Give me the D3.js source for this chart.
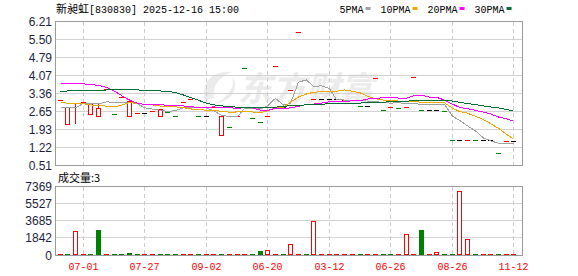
<!DOCTYPE html>
<html>
<head>
<meta charset="utf-8">
<script src="https://cdn.jsdelivr.net/npm/d3@7/dist/d3.min.js"></script>
<style>
body { margin: 0; background: #fff; }
svg { display: block; }
</style>
</head>
<body>
<div id="chart"></div>
<script>
// ---- data ----
var title = '新昶虹'
var titleRest = '[830830] 2025-12-16 15:00'
var volLabel = '成交量:3'

var priceTicks = [0.51, 1.22, 1.93, 2.65, 3.36, 4.07, 4.79, 5.50, 6.21]
var volTicks = [0, 1842, 3685, 5527, 7369]
var dateTickIdx = [3, 11, 19, 27, 35, 43, 51, 59]
var dateTicks = ['07-01', '07-27', '09-02', '06-20', '03-12', '06-26', '08-26', '11-12']
var maNames = ['5PMA', '10PMA', '20PMA', '30PMA']

var closeP = [3.10, 2.84, 2.98, 3.01, 2.93, 2.77, 3.50, 2.54, 3.21, 3.06,
    2.57, 2.57, 2.65, 2.76, 2.61, 2.46, 3.02, 3.13, 2.46, 2.46,
    2.81, 2.46, 2.01, 2.46, 4.33, 2.37, 2.21, 2.46, 4.44, 2.81,
    3.49, 5.77, 2.91, 3.13, 3.13, 3.13, 3.13, 3.07, 3.07, 2.86,
    2.86, 3.97, 2.68, 2.82, 2.77, 2.81, 4.01, 2.69, 2.69, 2.69,
    2.66, 1.49, 1.49, 1.49, 1.49, 1.49, 1.49, 0.98, 1.45, 1.45]
var openP = [3.10, 2.17, 2.98, 3.01, 2.53, 2.48, 3.50, 2.54, 3.21, 2.48,
    2.57, 2.57, 2.65, 2.48, 2.61, 2.46, 3.02, 3.13, 2.46, 2.46,
    2.81, 1.73, 2.01, 2.46, 4.33, 2.37, 2.21, 2.46, 4.44, 2.81,
    3.49, 5.77, 2.91, 3.13, 3.13, 3.13, 3.13, 3.07, 3.07, 2.86,
    2.86, 3.97, 2.68, 2.82, 2.77, 2.81, 4.01, 2.69, 2.69, 2.69,
    2.66, 1.49, 1.49, 1.49, 1.49, 1.49, 1.49, 0.98, 1.45, 1.45]
var highP = [3.10, 2.84, 2.98, 3.01, 2.93, 2.98, 3.50, 2.54, 3.21, 3.06,
    2.57, 2.57, 2.65, 2.76, 2.61, 2.46, 3.02, 3.13, 2.46, 2.46,
    2.81, 2.46, 2.01, 2.46, 4.33, 2.37, 2.21, 2.46, 4.44, 2.81,
    3.49, 5.77, 2.91, 3.13, 3.13, 3.13, 3.13, 3.07, 3.07, 2.86,
    2.86, 3.97, 2.68, 2.82, 2.77, 2.81, 4.01, 2.69, 2.69, 2.69,
    2.66, 1.49, 1.49, 1.49, 1.49, 1.49, 1.49, 0.98, 1.45, 1.45]
var lowP = [3.10, 2.17, 2.21, 3.01, 2.53, 2.48, 3.50, 2.54, 3.21, 2.48,
    2.57, 2.57, 2.65, 2.48, 2.61, 2.46, 3.02, 3.13, 2.46, 2.46,
    2.81, 1.73, 2.01, 2.46, 4.33, 2.37, 2.21, 2.46, 4.44, 2.81,
    3.49, 5.77, 2.91, 3.13, 3.13, 3.13, 3.13, 3.07, 3.07, 2.86,
    2.86, 3.97, 2.68, 2.82, 2.77, 2.81, 4.01, 2.69, 2.69, 2.69,
    2.66, 1.49, 1.49, 1.49, 1.49, 1.49, 1.49, 0.98, 1.45, 1.45]
// 1 up, -1 down, 0 unchanged
var candleDir = [1, 1, 1, 1, 1, 1, 1, -1, 1, 1,
    1, 0, 1, 1, -1, -1, 1, 1, -1, 0,
    1, 1, -1, 1, -1, -1, -1, 1, 1, -1,
    1, 1, -1, 1, 0, 0, 0, 1, 1, -1,
    0, 1, -1, 1, -1, 1, 1, -1, 0, 0,
    -1, -1, 0, 1, -1, 0, 0, -1, 1, 0]

var volume = [3, 3, 2560, 3, 3, 2700, 3, 3, 3, 250,
    3, 3, 3, 3, 3, 3, 3, 3, 3, 3,
    3, 3, 3, 3, 3, 3, 430, 530, 3, 3,
    1180, 3, 3, 3660, 3, 3, 3, 3, 3, 3,
    210, 3, 3, 3, 3, 2240, 3, 2670, 3, 320,
    3, 3, 6840, 1710, 3, 3, 3, 3, 3, 3]
// 1 up (hollow red), -1 down (green), 0 flat (solid red)
var volDir = [1, -1, 1, 1, -1, -1, 1, -1, -1, -1,
    -1, 1, 1, -1, -1, -1, 1, 1, -1, 1,
    1, -1, 1, 1, 1, -1, -1, 1, 1, -1,
    1, 1, -1, 1, 1, 1, 1, 1, 1, -1,
    0, 1, -1, -1, 1, 1, 1, -1, 1, 1,
    -1, -1, 1, 1, -1, 1, 1, -1, 1, 1]

var ma5 = [2.79, 2.79, 2.79, 2.97, 2.97, 2.95, 3.03, 3.01, 3.01, 3.01,
    2.95, 2.80, 2.74, 2.70, 2.65, 2.68, 2.79, 2.79, 2.79, 2.79,
    2.68, 2.50, 2.44, 2.44, 2.77, 2.77, 2.75, 2.87, 3.17, 2.90,
    2.97, 3.81, 3.90, 3.63, 3.67, 3.55, 3.12, 3.10, 3.10, 3.08,
    3.06, 3.04, 3.00, 2.98, 2.99, 2.97, 2.95, 2.94, 2.94, 2.94,
    2.93, 2.46, 2.30, 2.08, 1.88, 1.60, 1.49, 1.39, 1.38, 1.37]
var ma10 = [3.03, 2.97, 2.97, 2.95, 2.91, 2.88, 2.86, 2.83, 2.90, 3.00,
    2.97, 2.93, 2.91, 2.86, 2.84, 2.83, 2.80, 2.75, 2.72, 2.70,
    2.68, 2.66, 2.62, 2.63, 2.65, 2.63, 2.60, 2.67, 2.80, 2.82,
    3.02, 3.22, 3.34, 3.41, 3.43, 3.43, 3.45, 3.50, 3.45, 3.38,
    3.25, 3.15, 3.10, 3.09, 3.06, 3.04, 3.03, 3.02, 3.01, 3.00,
    2.99, 2.78, 2.65, 2.58, 2.46, 2.33, 2.17, 1.98, 1.75, 1.55]
var ma20 = [3.75, 3.75, 3.75, 3.74, 3.72, 3.68, 3.60, 3.45, 3.28, 3.10,
    2.97, 2.93, 2.93, 2.92, 2.89, 2.88, 2.87, 2.83, 2.82, 2.81,
    2.83, 2.81, 2.79, 2.78, 2.79, 2.79, 2.70, 2.69, 2.77, 2.77,
    2.79, 2.85, 2.93, 2.94, 2.98, 3.03, 3.04, 3.05, 3.07, 3.08,
    3.14, 3.17, 3.19, 3.22, 3.18, 3.17, 3.27, 3.29, 3.22, 3.21,
    3.10, 2.94, 2.81, 2.76, 2.69, 2.62, 2.55, 2.43, 2.36, 2.26]
var ma30 = [3.43, 3.46, 3.46, 3.46, 3.47, 3.48, 3.50, 3.50, 3.51, 3.51,
    3.50, 3.49, 3.48, 3.46, 3.45, 3.40, 3.30, 3.20, 3.09, 2.98,
    2.91, 2.87, 2.84, 2.82, 2.81, 2.80, 2.80, 2.81, 2.82, 2.85,
    2.88, 2.89, 2.91, 2.93, 2.94, 2.95, 2.96, 2.97, 2.97, 2.98,
    3.01, 3.01, 3.02, 3.03, 3.05, 3.06, 3.07, 3.08, 3.10, 3.10,
    3.09, 3.06, 3.01, 2.96, 2.92, 2.87, 2.83, 2.79, 2.73, 2.66]

// ---- layout ----
var width = 578
var height = 276
var RED = '#ff0000', GREEN = '#008000', BLACK = '#000000'
var maColors = ['#a0a0a0', '#f0a800', '#ff00ff', '#006e35']
var axisColor = '#1e1e3c'
var monoFont = '"Liberation Mono", "DejaVu Sans Mono", monospace'
var sansFont = '"Liberation Sans", Arial, sans-serif'
var cjkFont = '"Noto Sans CJK SC", sans-serif'

var idx = d3.range(closeP.length)

var x = d3.scaleBand()
    .domain(idx)
    .range([56.4, 517.6])

// left pixel of the 5px wide candle slot
function cx(i) {
    return Math.round(x(i) + x.bandwidth() / 2 - 2.5)
}

var y = d3.scaleLinear()
    .domain([0.51, 6.21])
    .range([165.5, 21.5])

var yv = d3.scaleLinear()
    .domain([0, 7369])
    .range([255, 186])

var svg = d3.select('#chart').append('svg')
    .attr('width', width)
    .attr('height', height)
    .style('background', '#fff')

// watermark
var wm = svg.append('g').attr('fill', '#ebebeb')
wm.append('path')
    .attr('d', 'M205,100 C200,82 214,70 232,72 C220,76 212,86 214,98 Z M212,104 C226,100 236,88 232,76 C240,88 232,102 212,104 Z')
wm.append('text')
    .attr('x', 238)
    .attr('y', 101)
    .attr('font-family', cjkFont)
    .attr('font-weight', 'bold')
    .attr('font-size', 34)
    .attr('font-style', 'italic')
    .text('东方财富')

// grids
var grid = svg.append('g').attr('shape-rendering', 'crispEdges')

grid.selectAll('.hp')
    .data(priceTicks)
    .enter().append('line')
    .attr('x1', 56).attr('x2', 522)
    .attr('y1', function(d) { return Math.round(y(d) - 0.5) + 0.5 })
    .attr('y2', function(d) { return Math.round(y(d) - 0.5) + 0.5 })
    .attr('stroke', '#d2d2d2')

grid.selectAll('.hv')
    .data(volTicks)
    .enter().append('line')
    .attr('x1', 56).attr('x2', 522)
    .attr('y1', function(d) { return Math.floor(yv(d)) + 0.5 })
    .attr('y2', function(d) { return Math.floor(yv(d)) + 0.5 })
    .attr('stroke', '#d2d2d2')

dateTickIdx.forEach(function(i) {
    var gx = cx(i) + 2.5
    grid.append('line')
        .attr('x1', gx).attr('x2', gx)
        .attr('y1', 22).attr('y2', 165)
        .attr('stroke', '#cccccc')
        .attr('stroke-dasharray', '4,3')
    grid.append('line')
        .attr('x1', gx).attr('x2', gx)
        .attr('y1', 187).attr('y2', 255)
        .attr('stroke', '#cccccc')
        .attr('stroke-dasharray', '4,3')
})

// hollow box drawn with fills so every edge is one full pixel
function hollow(g, left, top, h, col) {
    g.append('rect')
        .attr('x', left).attr('y', top)
        .attr('width', 5).attr('height', h)
        .attr('fill', col)
    if (h > 2) {
        g.append('rect')
            .attr('x', left + 1).attr('y', top + 1)
            .attr('width', 3).attr('height', h - 2)
            .attr('fill', '#fff')
    }
}

// candles
var candles = svg.append('g').attr('shape-rendering', 'crispEdges')

function candleColor(i) {
    return candleDir[i] > 0 ? RED : candleDir[i] < 0 ? GREEN : BLACK
}

idx.forEach(function(i) {
    var left = cx(i)
    var col = candleColor(i)
    var top = Math.round(y(Math.max(openP[i], closeP[i])))
    var bot = Math.round(y(Math.min(openP[i], closeP[i])))
    if (highP[i] > Math.max(openP[i], closeP[i]) || lowP[i] < Math.min(openP[i], closeP[i])) {
        var hy = Math.round(y(highP[i]))
        var ly = Math.round(y(lowP[i]))
        candles.append('rect')
            .attr('x', left + 2).attr('y', hy)
            .attr('width', 1).attr('height', ly - hy + 1)
            .attr('fill', col)
    }
    if (bot - top >= 2) {
        if (closeP[i] > openP[i]) hollow(candles, left, top, bot - top + 1, col)
        else candles.append('rect')
            .attr('x', left).attr('y', top)
            .attr('width', 5).attr('height', bot - top + 1)
            .attr('fill', col)
    } else {
        candles.append('rect')
            .attr('x', left)
            .attr('y', Math.floor(y(closeP[i])))
            .attr('width', 5)
            .attr('height', 1)
            .attr('fill', col)
    }
})

// moving averages
var line = d3.line()
    .x(function(d, i) { return cx(i) + 2.5 })
    .y(function(d) { return y(d) })

var maLines = svg.append('g')
    .attr('fill', 'none')
    .attr('shape-rendering', 'crispEdges')

;[ma5, ma10, ma20, ma30].forEach(function(s, k) {
    maLines.append('path')
        .datum(s)
        .attr('d', line)
        .attr('stroke', maColors[k])
        .attr('stroke-width', 1)
})

// volume bars
var vols = svg.append('g').attr('shape-rendering', 'crispEdges')

idx.forEach(function(i) {
    var left = cx(i)
    var h = yv(0) - yv(volume[i])
    var col = volDir[i] < 0 ? GREEN : RED
    var top = Math.round(yv(volume[i]))
    if (h < 2) {
        vols.append('rect')
            .attr('x', left).attr('y', 254)
            .attr('width', 5).attr('height', 1)
            .attr('fill', col)
    } else if (volDir[i] > 0) {
        hollow(vols, left, top, 255 - top, col)
    } else {
        vols.append('rect')
            .attr('x', left)
            .attr('y', top)
            .attr('width', 5)
            .attr('height', 255 - top)
            .attr('fill', col)
    }
})

// frames
var frames = svg.append('g')
    .attr('fill', 'none')
    .attr('stroke', '#9a9a9a')
    .attr('shape-rendering', 'crispEdges')
frames.append('rect').attr('x', 55.5).attr('y', 21.5).attr('width', 467).attr('height', 144)
frames.append('rect').attr('x', 55.5).attr('y', 186.5).attr('width', 467).attr('height', 69)

// axis labels
svg.append('g').selectAll('text')
    .data(priceTicks)
    .enter().append('text')
    .attr('x', 52)
    .attr('y', function(d) { return y(d) + 4.5 })
    .attr('text-anchor', 'end')
    .attr('font-family', sansFont)
    .attr('font-size', 12)
    .attr('fill', axisColor)
    .text(function(d) { return d.toFixed(2) })

svg.append('g').selectAll('text')
    .data(volTicks)
    .enter().append('text')
    .attr('x', 52)
    .attr('y', function(d) { return yv(d) + 4.5 })
    .attr('text-anchor', 'end')
    .attr('font-family', sansFont)
    .attr('font-size', 12)
    .attr('fill', axisColor)
    .text(function(d) { return d })

svg.append('g').selectAll('text')
    .data(dateTicks)
    .enter().append('text')
    .attr('x', function(d, k) { return cx(dateTickIdx[k]) + 2.5 })
    .attr('y', 270)
    .attr('text-anchor', 'middle')
    .attr('font-family', monoFont)
    .attr('font-size', 10)
    .attr('fill', RED)
    .text(function(d) { return d })

// title
var t = svg.append('text')
    .attr('x', 56)
    .attr('y', 13)
    .attr('fill', '#000')
t.append('tspan')
    .attr('font-family', cjkFont)
    .attr('font-size', 11)
    .text(title)
t.append('tspan')
    .attr('font-family', monoFont)
    .attr('font-size', 10)
    .text(titleRest)

svg.append('text')
    .attr('x', 58)
    .attr('y', 182)
    .attr('font-family', cjkFont)
    .attr('font-size', 11)
    .attr('fill', '#000')
    .text(volLabel)

// legend
var lx = 339.5
maNames.forEach(function(name, k) {
    var txt = svg.append('text')
        .attr('x', lx)
        .attr('y', 12.5)
        .attr('font-family', monoFont)
        .attr('font-size', 10)
        .attr('fill', '#000')
        .text(name)
    lx += txt.node().getComputedTextLength() + 2
    svg.append('rect')
        .attr('x', lx).attr('y', 7)
        .attr('width', 5).attr('height', 3)
        .attr('fill', maColors[k])
    lx += 15
})
</script>
</body>
</html>
